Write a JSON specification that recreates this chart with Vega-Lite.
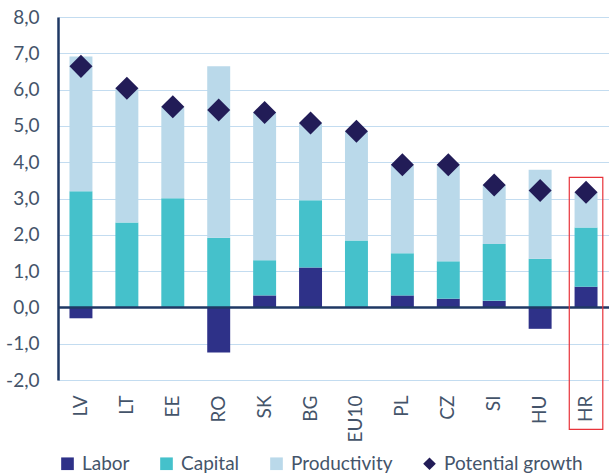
{
  "$schema": "https://vega.github.io/schema/vega-lite/v6.json",
  "autosize": {"type": "none"},
  "width": 551,
  "height": 363,
  "padding": {"left": 58, "top": 17, "right": 0, "bottom": 93},
  "background": "white",
  "config": {
    "view": {"stroke": null},
    "font": "Lato",
    "axis": {"labelFont": "Lato", "labelColor": "#44546A", "titleColor": "#44546A"},
    "axisY": {
      "values": [-2,-1,0,1,2,3,4,5,6,7,8],
      "labelOverlap": false,
      "labelExpr": "replace(replace(format(datum.value, '.1f'), '.', ','), '\u2212', '-')",
      "labelFontSize": 19, "ticks": false, "labelPadding": 19,
      "domainColor": "#1F3864", "domainWidth": 2.5,
      "gridColor": "#C3DCF0", "gridWidth": 1.2, "title": null
    },
    "legend": {"labelFont": "Lato", "labelColor": "#44546A"}
  },
  "datasets": {
    "bars": [
      {"country": "LV", "series": "Labor", "value": -0.3},
      {"country": "LV", "series": "Capital", "value": 3.2},
      {"country": "LV", "series": "Productivity", "value": 3.71},
      {"country": "LT", "series": "Labor", "value": 0.0},
      {"country": "LT", "series": "Capital", "value": 2.34},
      {"country": "LT", "series": "Productivity", "value": 3.71},
      {"country": "EE", "series": "Labor", "value": 0.0},
      {"country": "EE", "series": "Capital", "value": 3.01},
      {"country": "EE", "series": "Productivity", "value": 2.52},
      {"country": "RO", "series": "Labor", "value": -1.24},
      {"country": "RO", "series": "Capital", "value": 1.92},
      {"country": "RO", "series": "Productivity", "value": 4.72},
      {"country": "SK", "series": "Labor", "value": 0.33},
      {"country": "SK", "series": "Capital", "value": 0.97},
      {"country": "SK", "series": "Productivity", "value": 4.07},
      {"country": "BG", "series": "Labor", "value": 1.1},
      {"country": "BG", "series": "Capital", "value": 1.85},
      {"country": "BG", "series": "Productivity", "value": 2.13},
      {"country": "EU10", "series": "Labor", "value": 0.0},
      {"country": "EU10", "series": "Capital", "value": 1.84},
      {"country": "EU10", "series": "Productivity", "value": 3.01},
      {"country": "PL", "series": "Labor", "value": 0.33},
      {"country": "PL", "series": "Capital", "value": 1.16},
      {"country": "PL", "series": "Productivity", "value": 2.44},
      {"country": "CZ", "series": "Labor", "value": 0.24},
      {"country": "CZ", "series": "Capital", "value": 1.03},
      {"country": "CZ", "series": "Productivity", "value": 2.66},
      {"country": "SI", "series": "Labor", "value": 0.18},
      {"country": "SI", "series": "Capital", "value": 1.57},
      {"country": "SI", "series": "Productivity", "value": 1.62},
      {"country": "HU", "series": "Labor", "value": -0.59},
      {"country": "HU", "series": "Capital", "value": 1.34},
      {"country": "HU", "series": "Productivity", "value": 2.45},
      {"country": "HR", "series": "Labor", "value": 0.57},
      {"country": "HR", "series": "Capital", "value": 1.63},
      {"country": "HR", "series": "Productivity", "value": 0.97}
    ],
    "growth": [
      {"country": "LV", "series": "Potential growth", "value": 6.64},
      {"country": "LT", "series": "Potential growth", "value": 6.04},
      {"country": "EE", "series": "Potential growth", "value": 5.53},
      {"country": "RO", "series": "Potential growth", "value": 5.44},
      {"country": "SK", "series": "Potential growth", "value": 5.37},
      {"country": "BG", "series": "Potential growth", "value": 5.08},
      {"country": "EU10", "series": "Potential growth", "value": 4.85},
      {"country": "PL", "series": "Potential growth", "value": 3.93},
      {"country": "CZ", "series": "Potential growth", "value": 3.93},
      {"country": "SI", "series": "Potential growth", "value": 3.37},
      {"country": "HU", "series": "Potential growth", "value": 3.22},
      {"country": "HR", "series": "Potential growth", "value": 3.17}
    ],
    "highlight": [
      {"country": "HR", "top": 3.58, "bottom": -3.36}
    ]
  },
  "layer": [
    {
      "data": {"name": "bars"},
      "transform": [
        {"calculate": "indexof(['Labor','Capital','Productivity'], datum.series)", "as": "stackOrder"}
      ],
      "mark": {"type": "bar", "width": {"band": 0.5}},
      "encoding": {
        "x": {
          "field": "country", "type": "nominal", "sort": null,
          "scale": {"domain": ["LV","LT","EE","RO","SK","BG","EU10","PL","CZ","SI","HU","HR"], "paddingInner": 0, "paddingOuter": 0},
          "axis": {"title": null, "labelAngle": -90, "labelFontSize": 19, "ticks": false, "domain": false, "labelPadding": 15}
        },
        "y": {
          "field": "value", "type": "quantitative", "stack": "zero",
          "scale": {"domain": [-2, 8], "nice": false, "zero": false},
          "axis": {"values": [-2,-1,0,1,2,3,4,5,6,7,8]}
        },
        "color": {
          "field": "series", "type": "nominal",
          "scale": {"domain": ["Labor", "Capital", "Productivity", "Potential growth"], "range": ["#2E3188", "#45C1CB", "#BAD9EA", "#221C57"]},
          "legend": {
            "title": null, "orient": "bottom", "direction": "horizontal",
            "labelFontSize": 19, "symbolSize": 160, "symbolStrokeWidth": 0,
            "columnPadding": 27, "labelOffset": 5, "offset": 12,
            "encode": {"symbols": {"update": {"shape": {"signal": "datum.value === 'Potential growth' ? 'diamond' : 'square'"}}}}
          }
        },
        "order": {"field": "stackOrder", "type": "quantitative", "sort": "ascending"}
      }
    },
    {
      "data": {"values": [{"z": 0}]},
      "mark": {"type": "rule", "color": "#1F3864", "strokeWidth": 2.5},
      "encoding": {"y": {"field": "z", "type": "quantitative", "axis": {"values": [-2,-1,0,1,2,3,4,5,6,7,8]}}}
    },
    {
      "data": {"name": "growth"},
      "mark": {"type": "point", "shape": "diamond", "filled": true, "size": 530, "opacity": 1},
      "encoding": {
        "x": {"field": "country", "type": "nominal", "sort": null},
        "y": {"field": "value", "type": "quantitative", "axis": {"values": [-2,-1,0,1,2,3,4,5,6,7,8]}},
        "color": {"field": "series", "type": "nominal"}
      }
    },
    {
      "data": {"name": "highlight"},
      "mark": {"type": "bar", "width": {"band": 0.73}, "fill": null, "fillOpacity": 0, "stroke": "#E8333A", "strokeWidth": 1.2, "clip": false},
      "encoding": {
        "x": {"field": "country", "type": "nominal", "sort": null},
        "y": {"field": "top", "type": "quantitative", "axis": {"values": [-2,-1,0,1,2,3,4,5,6,7,8]}},
        "y2": {"field": "bottom"}
      }
    }
  ]
}
